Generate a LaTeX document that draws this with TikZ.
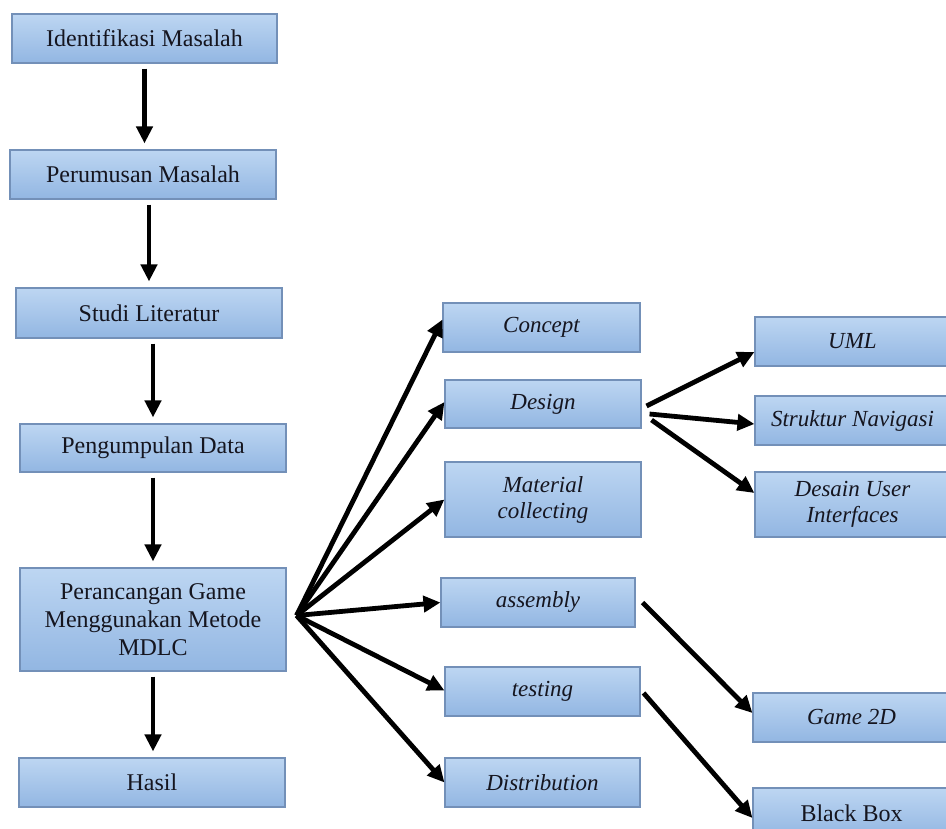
\documentclass[tikz,border=0pt]{standalone}
\usepackage{fontspec}
\setmainfont{Liberation Serif}
\usetikzlibrary{arrows.meta,calc}

\definecolor{boxtop}{HTML}{BDD6F2}
\definecolor{boxbot}{HTML}{92B6E2}
\definecolor{boxline}{HTML}{7390B8}
\definecolor{ink}{HTML}{15151F}

\begin{document}
\begin{tikzpicture}[x=1pt,y=-1pt,
  stage/.style={draw=boxline, line width=1.1pt, top color=boxtop, bottom color=boxbot,
    align=center, text=ink, inner sep=0pt, font=\fontsize{24}{28}\selectfont},
  it/.style={font=\fontsize{23}{26}\selectfont\itshape},
  arr/.style={draw=black, line width=4.8pt, -{Triangle[length=17pt,width=16pt]}}]

% canvas
\fill[white] (0,0) rectangle (946,829);
\useasboundingbox (0,0) rectangle (946,829);

% main research steps
\node[stage, minimum width=265pt, minimum height=49pt] (id) at (144.5,38.5) {Identifikasi Masalah};
\node[stage, minimum width=266pt, minimum height=49pt] (pr) at (143,174.5) {Perumusan Masalah};
\node[stage, minimum width=266pt, minimum height=50pt] (sl) at (149,313) {Studi Literatur};
\node[stage, minimum width=266pt, minimum height=48pt] (pd) at (153,448) {Pengumpulan Data};
\node[stage, minimum width=266pt, minimum height=103pt] (pg) at (153,619.5)
  {Perancangan Game\\Menggunakan Metode\\MDLC};
\node[stage, minimum width=266pt, minimum height=49pt] (hs) at (152,782.5) {Hasil};

% MDLC stages
\node[stage, it, minimum width=197pt, minimum height=49pt] (co) at (541.5,327.5) {Concept};
\node[stage, it, minimum width=196pt, minimum height=48pt] (de) at (543,404) {Design};
\node[stage, it, minimum width=196pt, minimum height=75pt] (ma) at (543,499.5) {Material\\collecting};
\node[stage, it, minimum width=194pt, minimum height=49pt] (as) at (538,602.5) {assembly};
\node[stage, it, minimum width=195pt, minimum height=49pt] (te) at (542.5,691.5) {testing};
\node[stage, it, minimum width=195pt, minimum height=49pt] (di) at (542.5,782.5) {Distribution};

% outputs of the stages
\node[stage, it, minimum width=195pt, minimum height=49pt] (um) at (852.5,341.5) {UML};
\node[stage, it, minimum width=195pt, minimum height=49pt] (sn) at (852.5,420.5) {Struktur Navigasi};
\node[stage, it, minimum width=195pt, minimum height=65pt] (du) at (852.5,504.5) {Desain User\\Interfaces};
\node[stage, it, minimum width=197pt, minimum height=49pt] (g2) at (851.5,717.5) {Game 2D};
\node[stage, minimum width=197pt, minimum height=50pt] (bb) at (851.5,813) {Black Box};

% vertical flow
\draw[arr, shorten <=5pt, shorten >=6pt] (id.south) -- (id.south |- pr.north);
\draw[arr, shorten <=5pt, shorten >=6pt] ([xshift=6pt]pr.south) -- ([xshift=6pt]pr.south |- sl.north);
\draw[arr, shorten <=5pt, shorten >=6pt] ([xshift=4pt]sl.south) -- ([xshift=4pt]sl.south |- pd.north);
\draw[arr, shorten <=5pt, shorten >=6pt] (pd.south) -- (pd.south |- pg.north);
\draw[arr, shorten <=5pt, shorten >=6pt] (pg.south) -- (pg.south |- hs.north);

% fan into the MDLC stages
\coordinate (fan) at ([xshift=10pt,yshift=4pt]pg.east);
\draw[arr] (fan) -- ([yshift=8pt]co.west);
\draw[arr] (fan) -- ([yshift=2pt]de.west);
\draw[arr] (fan) -- (ma.west);
\draw[arr] (fan) -- (as.west);
\draw[arr] (fan) -- ([yshift=1pt]te.west);
\draw[arr] (fan) -- (di.west);

% design outputs
\draw[arr] ([xshift=5pt,yshift=-2pt]de.east) -- ([yshift=-10.5pt]um.west);
\draw[arr] ([xshift=8pt,yshift=-10pt]de.east) -- ([yshift=-3.5pt]sn.west);
\draw[arr] ([xshift=10pt,yshift=-16pt]de.east) -- ([yshift=11.5pt]du.west);

% assembly and testing outputs
\draw[arr] ([xshift=7pt]as.east) -- ([yshift=4.5pt]g2.west);
\draw[arr] ([xshift=3pt,yshift=-1.5pt]te.east) -- ([yshift=-5pt]bb.west);
\end{tikzpicture}
\end{document}
